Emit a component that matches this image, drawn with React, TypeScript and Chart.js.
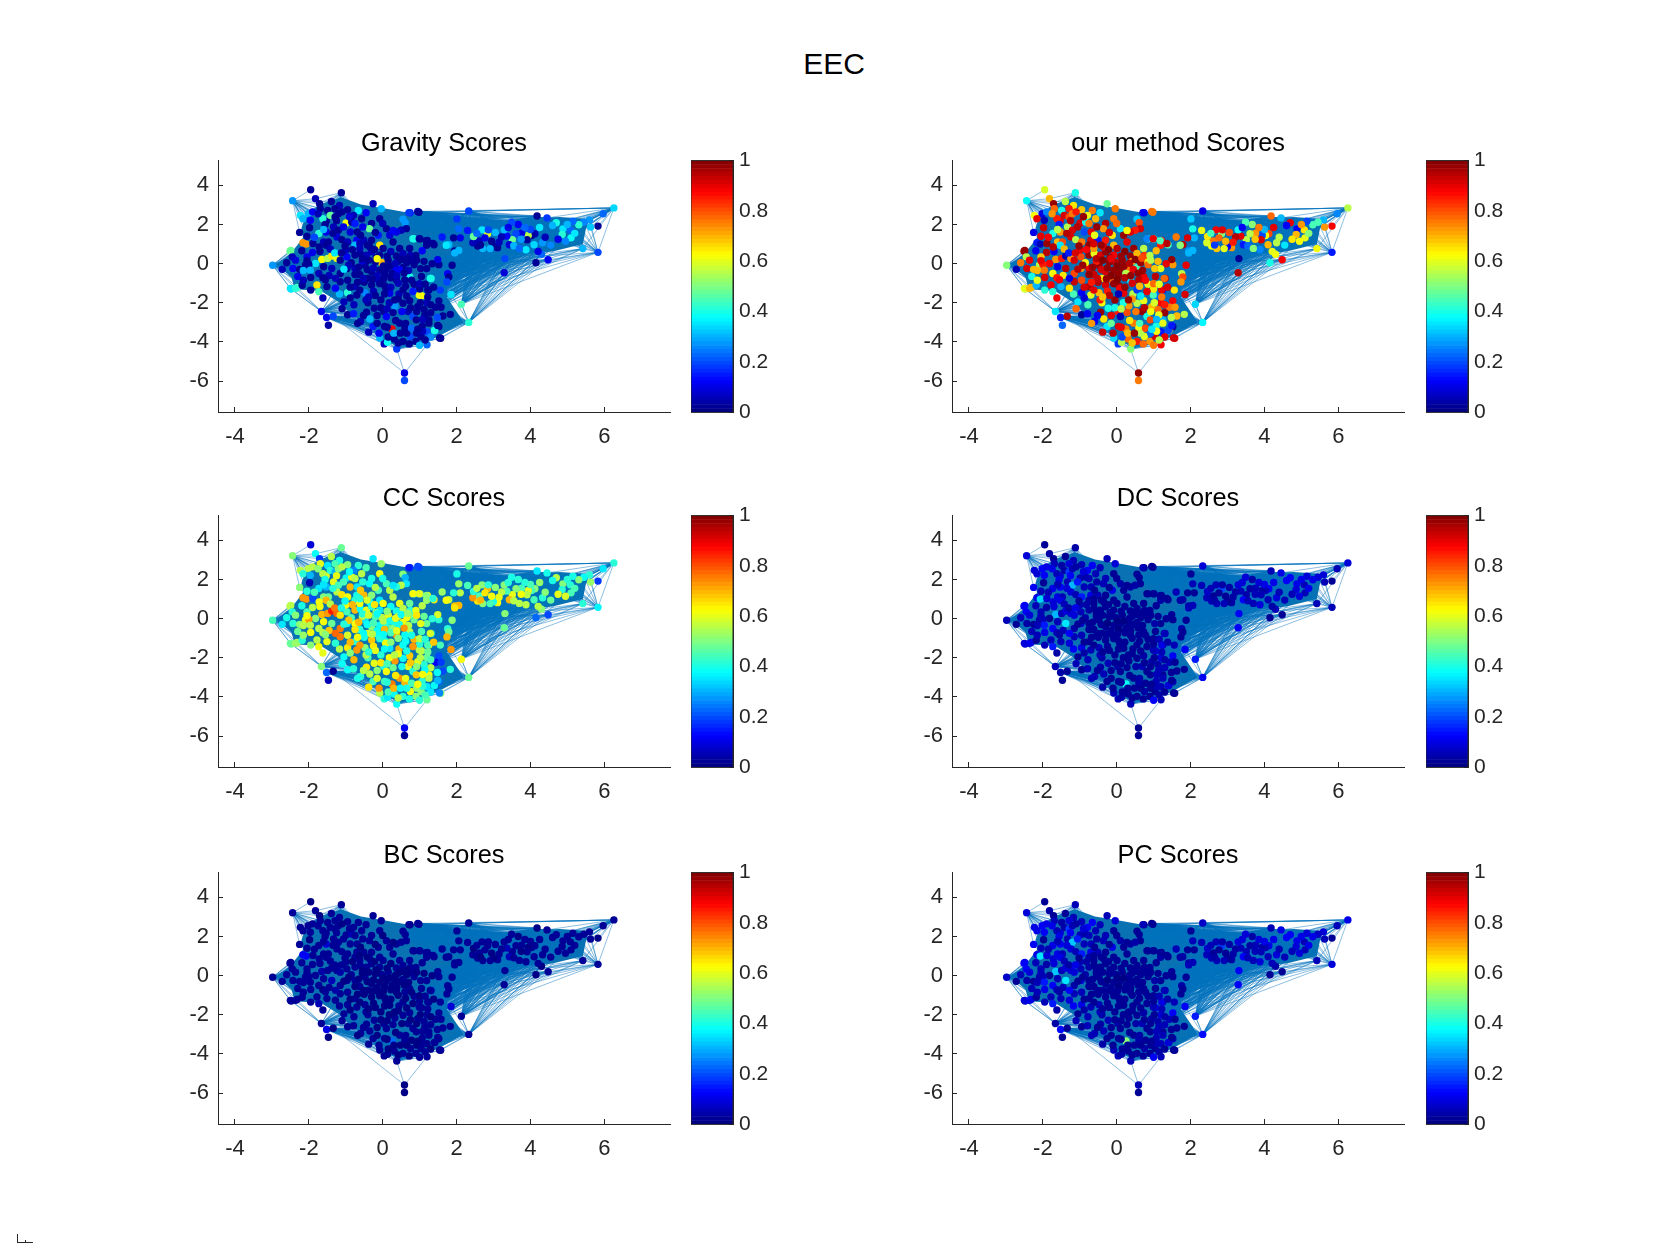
import React, { useEffect, useRef } from "react";
import { Chart, registerables } from "chart.js";

Chart.register(...registerables);

const nodeX = [
  6.26, 5.83, 2.33, 2.33, 2.13, 0.59, 0.59, 0.38, -2.98, -2.44,
  -1.95, -1.12, -1.66, -1.52, -1.34, -1.47, -2.48, -2.32, -2.49, -2.16,
  5.97, 5.83, 5.63, 5.6, 5.42, 5.45, 5.31, 5.15, 5.1, 5.08,
  4.88, 4.86, 4.7, 4.45, 4.18, 4.48, 4.15, 4.3, 4.33, 4.21,
  4.1, 3.88, 4.12, 4.03, 3.94, 3.91, 3.76, 3.61, 3.67, 3.49,
  3.51, 3.36, 3.29, 3.22, 3.43, 3.11, 3.0, 2.91, 2.71, 2.57,
  2.62, 2.44, 2.46, 2.84, 2.69, 2.86, 2.77, 3.31, 3.29, 2.06,
  2.01, 2.1, 1.92, 1.79, 1.61, 1.39, 1.21, 1.19, 1.01, 0.85,
  1.95, 2.06, 1.95, 0.98, 0.74, 1.52, 1.88, 1.49, 1.34, 1.19,
  1.03, 1.76, 1.79, 1.74, 1.31, 1.85, 1.56, 1.25, 1.05, 1.52,
  1.43, 1.58, 1.83, 1.63, 1.52, 1.41, 1.57, 1.3, 1.12, 1.25,
  1.14, -1.82, -1.39, -1.17, -1.71, -1.69, -1.49, -1.29, -0.95, -0.66,
  -0.26, -0.04, 0.71, 0.95, -2.23, -2.02, -2.16, -1.96, -1.53, -1.62,
  -1.42, -1.29, -1.2, -0.99, -0.84, -0.79, -0.57, -0.3, -0.08, 0.1,
  0.55, 0.61, 0.64, 0.5, -1.98, -1.73, -1.56, -1.53, -1.33, -1.2,
  -1.06, -0.75, -0.88, -0.69, -0.36, -0.54, -0.12, 0.19, 0.37, 0.82,
  -2.07, -1.89, -2.51, -2.19, -1.9, -1.6, -1.47, -1.53, -1.24, -1.11,
  -0.95, -0.7, -0.51, -0.75, -0.3, -0.08, 0.01, 0.28, 0.46, 0.73,
  1.07, 0.99, 1.18, 1.36, 1.72, -2.45, -2.36, -1.65, -1.49, -1.38,
  -1.24, -1.82, -1.15, -0.97, -0.75, -0.61, -0.44, -0.3, -0.03, -0.08,
  0.15, 0.37, 0.55, 0.77, -2.72, -2.43, -2.25, -2.09, -2.0, -1.96,
  -1.73, -1.6, -1.38, -1.15, -0.97, -0.75, -0.48, -0.3, -0.08, 0.1,
  0.33, 0.55, 0.73, 0.6, 0.37, -2.5, -2.36, -2.18, -1.78, -1.73,
  -1.51, -1.15, -1.17, -0.95, -0.75, -0.7, -0.48, -0.3, -0.12, 0.06,
  0.19, 0.44, 0.55, 0.73, 0.99, 1.22, 1.29, -0.95, -0.79, -0.44,
  -0.23, -0.35, -0.26, 0.03, 0.1, 0.33, 0.55, 0.69, 0.82, 0.46,
  0.6, 0.25, 0.05, -0.08, 0.04, 0.13, 0.31, 0.55, 0.75, 0.9,
  1.04, 1.0, 1.2, 1.54, 1.4, 1.49, 1.2, 1.07, 1.25, 0.91,
  -0.2, -0.55, -0.62, -0.4, -0.15, 0.05, 0.25, 0.45, 0.65, 0.85,
  -1.0, -0.85, -0.35, -0.18, 0.22, 0.42, 0.75, 0.9, -0.5, -0.25,
  -0.05, 0.18, 0.42, 0.62, 0.85, 1.05, -0.95, -1.45, -1.7, -2.05,
  -1.9, -1.35, -0.62, -0.4, -0.78, -1.05, 0.28, 0.08, 0.7, 1.0,
  -0.6, -0.15, 0.35, 0.65, 0.95, -0.1, 0.15, -0.45, -0.75, 1.2,
  -2.05, -1.75, -1.6, -1.25, -1.1, -0.9, -0.6, -0.45, -0.2, 0.0,
  -2.25, -1.85, -1.72, -1.42, -1.02, -0.82, -0.62, -0.42, -0.22, 0.28,
  -2.3, -2.05, -1.62, -1.3, -1.12, -0.92, -0.55, -0.38, -0.15, 0.12,
  -2.6, -2.15, -1.95, -1.55, -1.28, -1.05, -0.65, -0.42, -0.25, 0.02,
  0.2, 0.35, 0.5, 0.68, 0.92, 1.12, -0.08, -0.28, -0.52, -0.68,
  -0.88, -1.28, -1.62, -1.95, -2.15, 0.02, 0.22, 0.38, 0.58, 0.78,
  1.0, 1.15, 1.38, 0.05, 0.22, 0.42, 0.65, 0.82, 1.02, 1.22,
  -0.2, -0.38, -0.62, -0.88, -1.1, -0.05, 0.12, 0.32, 0.52, 0.75,
  0.92, 1.08, 1.3, 1.48, -0.52, -0.68, -0.38, -0.15, 0.12, 0.3,
  0.48, 0.62, 0.78, 0.92, 1.08, 1.3, 0.42, 0.72, 0.95, 1.15,
  2.55, 3.05, 3.4, 3.75, 4.0, 4.4, 4.6, 4.95, 5.2, 3.15,
  2.3, 2.95, 3.55, 3.85, 4.25, 4.55, 4.75, 5.0, 2.65, 3.7,
];

const nodeY = [
  2.85, 0.58, 2.69, -3.0, -2.07, -5.59, -5.97, -4.36, -0.08, 3.22,
  3.78, 3.63, -2.44, -2.75, -2.69, -3.15, -1.3, -1.22, 0.68, 1.07,
  2.55, 1.92, 1.87, 2.24, 0.77, 2.12, 1.99, 2.17, 1.32, 1.73,
  1.78, 1.49, 2.09, 2.34, 2.44, 0.2, 0.05, 0.48, 1.07, 0.63,
  0.97, 0.71, 1.53, 1.44, 1.44, 1.22, 1.56, 1.53, 2.0, 2.12,
  1.22, 1.41, 1.73, 1.36, 0.97, 0.82, 0.88, 0.77, 0.77, 0.9,
  1.16, 1.07, 1.39, 1.53, 1.73, 1.73, 1.32, 0.26, -0.46, 1.78,
  2.29, 1.32, 1.32, 0.97, 1.36, 0.97, 1.19, 0.94, 1.27, 1.27,
  0.65, 0.68, 0.55, 2.63, 2.6, -0.05, -0.08, 0.21, 0.0, -0.25,
  -0.25, -0.51, -0.68, -0.93, -0.76, -1.57, -1.35, -1.35, -1.64, -1.9,
  -2.23, -2.23, -2.59, -2.67, -3.22, -3.42, -3.81, -2.51, -2.34, -2.88,
  -2.62, 3.32, 3.18, 2.98, 3.06, 2.81, 2.72, 2.81, 2.76, 2.72,
  3.06, 2.81, 2.61, 2.67, 2.47, 2.55, 2.3, 2.22, 2.18, 2.3,
  2.47, 2.39, 2.55, 2.08, 2.13, 2.47, 2.3, 2.05, 2.3, 1.79,
  2.27, 2.1, 1.79, 1.71, 1.84, 1.54, 2.0, 1.62, 1.88, 1.71,
  1.88, 2.05, 1.62, 1.62, 1.79, 1.88, 1.45, 1.45, 1.62, 1.28,
  1.0, 1.03, 0.64, 0.66, 0.57, 1.11, 1.11, 0.94, 1.37, 1.23,
  1.11, 1.2, 1.2, 0.94, 1.2, 0.94, 0.78, 1.11, 0.78, 0.78,
  0.66, 1.28, 1.17, 1.03, 0.94, 0.35, 0.18, 0.22, 0.27, 0.39,
  0.27, 0.01, 0.18, 0.35, 0.44, 0.52, 0.44, 0.61, 0.06, 0.44,
  0.18, 0.39, 0.52, 0.18, -0.29, -0.24, -0.29, -0.07, -0.04, -0.33,
  -0.5, -0.16, -0.24, -0.5, -0.24, -0.24, -0.07, -0.41, -0.33, -0.24,
  -0.24, -0.19, -0.67, -0.83, -0.83, -1.26, -1.26, -1.1, -1.09, -1.43,
  -1.17, -0.92, -1.55, -1.48, -1.17, -1.6, -1.48, -1.09, -0.83, -1.14,
  -1.51, -1.55, -1.34, -1.89, -1.6, -1.34, -0.75, -2.61, -2.56, -2.48,
  -2.28, -2.83, -3.21, -2.44, -2.7, -2.16, -2.02, -2.44, -2.7, -3.04,
  -3.29, -3.34, -3.21, -3.8, -4.1, -4.02, -3.85, -3.97, -3.72, -3.97,
  -3.72, -4.17, -4.14, -3.8, -3.41, -3.16, -3.48, -3.19, -3.04, -2.87,
  0.1, 0.12, -0.55, -0.75, -0.62, -0.55, -0.5, -0.3, 0.05, -0.05,
  0.7, 0.05, 0.85, 0.3, 0.62, 0.12, 0.42, 0.42, -0.95, -1.4,
  -1.85, -2.0, -1.0, -1.15, -1.05, -0.65, -0.85, -0.6, 0.62, 0.35,
  2.65, 1.55, 0.78, -2.0, -2.1, -1.95, -2.5, -1.25, -0.35, -1.3,
  -2.95, -2.65, -2.9, -3.55, -2.2, -3.55, -3.75, -1.85, -0.55, -2.0,
  1.4, 2.55, 1.75, 2.2, 2.65, 2.4, 1.45, 2.6, 1.6, 2.05,
  1.6, 1.35, 0.85, 0.75, 0.9, 0.72, 1.02, 0.95, 0.72, 1.7,
  -0.65, 0.15, -0.72, 0.55, 0.55, -0.08, 0.25, 0.18, 0.25, 0.38,
  0.05, -0.85, -0.7, -0.82, -0.75, -0.28, -0.18, -0.3, -0.22, -0.12,
  -0.12, 0.02, 0.22, 0.28, 0.18, 0.12, -1.02, -0.78, -0.75, -0.95,
  -1.2, -1.25, -1.75, -1.35, -0.35, -0.8, -0.72, -0.62, -0.48, -0.85,
  -1.02, -1.05, -1.2, -1.55, -1.2, -1.8, -1.65, -1.42, -2.0, -1.7,
  -1.62, -1.7, -1.35, -1.75, -2.3, -2.25, -2.3, -1.85, -2.45, -2.25,
  -2.45, -2.85, -2.1, -2.75, -2.65, -3.05, -3.5, -3.05, -3.25, -3.55,
  -3.55, -3.05, -3.3, -3.55, -3.45, -3.75, -4.05, -4.1, -3.35, -3.9,
  1.55, 1.6, 1.85, 1.25, 1.75, 1.35, 1.95, 1.15, 1.55, 1.1,
  1.7, 1.15, 0.92, 1.85, 1.85, 0.95, 1.25, 2.0, 0.95, 0.78,
];

const gravityScores = [
  0.33, 0.2, 0.2, 0.42, 0.45, 0.1, 0.2, 0.18, 0.27, 0.28,
  0.03, 0.03, 0.12, 0.12, 0.2, 0.04, 0.35, 0.45, 0.47, 0.72,
  0.22, 0.02, 0.32, 0.28, 0.3, 0.25, 0.42, 0.22, 0.38, 0.22,
  0.35, 0.42, 0.4, 0.18, 0.02, 0.12, 0.02, 0.22, 0.28, 0.1,
  0.33, 0.35, 0.05, 0.03, 0.55, 0.03, 0.1, 0.2, 0.12, 0.2,
  0.48, 0.12, 0.3, 0.05, 0.08, 0.03, 0.03, 0.3, 0.3, 0.03,
  0.05, 0.05, 0.47, 0.6, 0.35, 0.2, 0.1, 0.2, 0.08, 0.22,
  0.18, 0.1, 0.03, 0.3, 0.15, 0.03, 0.03, 0.03, 0.03, 0.42,
  0.03, 0.3, 0.3, 0.03, 0.15, 0.03, 0.03, 0.1, 0.03, 0.03,
  0.03, 0.12, 0.03, 0.2, 0.4, 0.35, 0.18, 0.03, 0.62, 0.03,
  0.03, 0.03, 0.03, 0.03, 0.03, 0.4, 0.03, 0.03, 0.03, 0.03,
  0.03, 0.05, 0.03, 0.05, 0.03, 0.03, 0.03, 0.03, 0.03, 0.35,
  0.05, 0.3, 0.18, 0.03, 0.35, 0.3, 0.3, 0.12, 0.03, 0.42,
  0.48, 0.03, 0.03, 0.62, 0.03, 0.05, 0.03, 0.03, 0.03, 0.03,
  0.28, 0.28, 0.03, 0.05, 0.03, 0.42, 0.03, 0.1, 0.05, 0.03,
  0.1, 0.15, 0.08, 0.03, 0.48, 0.1, 0.15, 0.08, 0.1, 0.4,
  0.72, 0.03, 0.47, 0.03, 0.1, 0.05, 0.03, 0.03, 0.08, 0.03,
  0.05, 0.12, 0.05, 0.3, 0.03, 0.65, 0.03, 0.03, 0.03, 0.03,
  0.12, 0.03, 0.03, 0.03, 0.35, 0.05, 0.08, 0.62, 0.55, 0.65,
  0.6, 0.35, 0.03, 0.12, 0.03, 0.03, 0.05, 0.05, 0.7, 0.03,
  0.03, 0.03, 0.05, 0.03, 0.05, 0.12, 0.03, 0.03, 0.03, 0.3,
  0.05, 0.03, 0.05, 0.03, 0.03, 0.05, 0.03, 0.03, 0.03, 0.03,
  0.12, 0.03, 0.4, 0.03, 0.03, 0.35, 0.42, 0.03, 0.65, 0.45,
  0.03, 0.03, 0.3, 0.42, 0.05, 0.03, 0.25, 0.03, 0.05, 0.03,
  0.1, 0.05, 0.03, 0.03, 0.62, 0.03, 0.4, 0.03, 0.15, 0.03,
  0.03, 0.3, 0.15, 0.03, 0.12, 0.28, 0.03, 0.05, 0.2, 0.03,
  0.03, 0.88, 0.03, 0.3, 0.05, 0.38, 0.03, 0.03, 0.2, 0.03,
  0.03, 0.3, 0.22, 0.03, 0.4, 0.03, 0.2, 0.03, 0.03, 0.03,
  0.03, 0.08, 0.03, 0.03, 0.05, 0.03, 0.03, 0.12, 0.03, 0.03,
  0.05, 0.03, 0.03, 0.03, 0.05, 0.03, 0.05, 0.03, 0.03, 0.05,
  0.03, 0.05, 0.05, 0.03, 0.03, 0.03, 0.03, 0.05, 0.03, 0.1,
  0.12, 0.03, 0.05, 0.03, 0.05, 0.05, 0.03, 0.03, 0.05, 0.03,
  0.05, 0.03, 0.03, 0.03, 0.03, 0.12, 0.03, 0.05, 0.03, 0.05,
  0.03, 0.05, 0.3, 0.03, 0.03, 0.08, 0.03, 0.12, 0.03, 0.05,
  0.03, 0.2, 0.03, 0.05, 0.03, 0.03, 0.05, 0.03, 0.03, 0.12,
  0.1, 0.03, 0.03, 0.35, 0.03, 0.05, 0.03, 0.03, 0.62, 0.03,
  0.03, 0.05, 0.03, 0.03, 0.05, 0.35, 0.03, 0.03, 0.05, 0.03,
  0.03, 0.05, 0.03, 0.03, 0.03, 0.03, 0.03, 0.03, 0.05, 0.03,
  0.03, 0.12, 0.05, 0.03, 0.3, 0.03, 0.03, 0.05, 0.03, 0.03,
  0.05, 0.03, 0.03, 0.03, 0.05, 0.03, 0.03, 0.15, 0.03, 0.03,
  0.03, 0.05, 0.03, 0.03, 0.03, 0.03, 0.05, 0.03, 0.12, 0.03,
  0.03, 0.05, 0.03, 0.2, 0.03, 0.03, 0.05, 0.03, 0.03, 0.3,
  0.03, 0.03, 0.22, 0.03, 0.05, 0.25, 0.03, 0.03, 0.03, 0.03,
  0.22, 0.3, 0.1, 0.28, 0.2, 0.05, 0.3, 0.25, 0.35, 0.05,
  0.15, 0.03, 0.3, 0.22, 0.35, 0.25, 0.1, 0.3, 0.03, 0.22,
];

const ourMethodScores = [
  0.55, 0.15, 0.1, 0.37, 0.33, 0.97, 0.75, 0.5, 0.5, 0.38,
  0.58, 0.4, 0.35, 0.15, 0.95, 0.22, 0.55, 0.7, 0.97, 0.15,
  0.25, 0.88, 0.72, 0.3, 0.62, 0.45, 0.45, 0.2, 0.6, 0.65,
  0.12, 0.7, 0.9, 0.3, 0.78, 0.88, 0.4, 0.62, 0.55, 0.6,
  0.7, 0.25, 0.8, 0.62, 0.2, 0.92, 0.72, 0.55, 0.5, 0.45,
  0.55, 0.9, 0.38, 0.95, 0.15, 0.72, 0.12, 0.6, 0.68, 0.62,
  0.75, 0.58, 0.65, 0.5, 0.88, 0.9, 0.78, 0.02, 0.95, 0.4,
  0.32, 0.3, 0.92, 0.95, 0.75, 0.45, 0.88, 0.85, 0.42, 0.4,
  0.28, 0.3, 0.3, 0.75, 0.1, 0.72, 0.9, 0.97, 0.9, 0.6,
  0.68, 0.55, 0.8, 0.72, 0.92, 0.92, 0.65, 0.15, 0.22, 0.88,
  0.75, 0.72, 0.55, 0.7, 0.02, 0.65, 0.92, 0.97, 0.78, 0.3,
  0.6, 0.7, 0.55, 0.65, 0.98, 0.78, 0.4, 0.85, 0.68, 0.75,
  0.48, 0.76, 0.12, 0.75, 0.62, 0.1, 0.9, 0.05, 0.9, 0.85,
  0.92, 0.8, 0.75, 0.92, 0.4, 0.6, 0.7, 0.95, 0.75, 0.35,
  0.32, 0.8, 0.92, 0.85, 0.93, 0.4, 0.15, 0.72, 0.55, 0.92,
  0.95, 0.75, 0.2, 0.9, 0.72, 0.98, 0.65, 0.98, 0.9, 0.25,
  0.05, 0.98, 0.97, 0.12, 0.95, 0.7, 0.8, 0.35, 0.92, 0.55,
  0.75, 0.92, 0.15, 0.98, 0.85, 0.7, 0.95, 0.9, 0.98, 0.55,
  0.7, 0.9, 0.45, 0.95, 0.5, 0.55, 0.9, 0.72, 0.85, 0.05,
  0.72, 0.88, 0.92, 0.8, 0.98, 0.6, 0.92, 0.97, 0.95, 0.88,
  0.98, 0.97, 0.7, 0.62, 0.05, 0.92, 0.7, 0.55, 0.85, 0.75,
  0.62, 0.1, 0.95, 0.8, 0.72, 0.9, 0.98, 0.92, 0.98, 0.97,
  0.75, 0.45, 0.9, 0.95, 0.35, 0.6, 0.7, 0.3, 0.88, 0.42,
  0.3, 0.93, 0.45, 0.12, 0.95, 0.6, 0.7, 0.92, 0.78, 0.98,
  0.9, 0.55, 0.18, 0.6, 0.45, 0.9, 0.78, 0.02, 0.12, 0.97,
  0.4, 0.65, 0.35, 0.85, 0.05, 0.72, 0.55, 0.98, 0.4, 0.75,
  0.62, 0.75, 0.92, 0.33, 0.18, 0.55, 0.78, 0.85, 0.6, 0.72,
  0.92, 0.75, 0.88, 0.92, 0.2, 0.15, 0.15, 0.4, 0.6, 0.8,
  0.98, 0.85, 0.93, 0.65, 0.99, 0.97, 0.55, 0.9, 0.98, 0.78,
  0.9, 0.62, 0.92, 0.98, 0.99, 0.7, 0.82, 0.55, 0.95, 0.85,
  0.97, 0.4, 0.92, 0.7, 0.6, 0.95, 0.8, 0.65, 0.12, 0.68,
  0.25, 0.95, 0.72, 0.62, 0.45, 0.35, 0.8, 0.88, 0.98, 0.65,
  0.12, 0.9, 0.65, 0.55, 0.7, 0.95, 0.2, 0.85, 0.98, 0.88,
  0.9, 0.72, 0.55, 0.95, 0.85, 0.98, 0.6, 0.35, 0.92, 0.78,
  0.1, 0.88, 0.95, 0.7, 0.97, 0.88, 0.92, 0.98, 0.99, 0.62,
  0.4, 0.9, 0.85, 0.15, 0.92, 0.98, 0.95, 0.99, 0.9, 0.97,
  0.75, 0.6, 0.92, 0.88, 0.1, 0.95, 0.98, 0.92, 0.97, 0.99,
  0.98, 0.95, 0.99, 0.8, 0.55, 0.7, 0.97, 0.98, 0.93, 0.85,
  0.92, 0.65, 0.88, 0.42, 0.7, 0.99, 0.95, 0.97, 0.98, 0.88,
  0.78, 0.6, 0.92, 0.05, 0.98, 0.72, 0.35, 0.9, 0.58, 0.75,
  0.95, 0.68, 0.9, 0.08, 0.78, 0.4, 0.55, 0.97, 0.75, 0.95,
  0.62, 0.3, 0.85, 0.55, 0.12, 0.72, 0.93, 0.48, 0.9, 0.7,
  0.97, 0.45, 0.8, 0.22, 0.62, 0.9, 0.68, 0.78, 0.35, 0.55,
  0.45, 0.8, 0.12, 0.68, 0.3, 0.55, 0.12, 0.62, 0.5, 0.85,
  0.6, 0.7, 0.22, 0.75, 0.9, 0.35, 0.65, 0.72, 0.18, 0.5,
];

const ccScores = [
  0.42, 0.36, 0.47, 0.48, 0.62, 0.12, 0.03, 0.38, 0.45, 0.5,
  0.08, 0.48, 0.5, 0.22, 0.03, 0.05, 0.48, 0.55, 0.55, 0.72,
  0.35, 0.18, 0.52, 0.42, 0.42, 0.38, 0.5, 0.4, 0.45, 0.42,
  0.5, 0.42, 0.55, 0.4, 0.35, 0.2, 0.22, 0.5, 0.42, 0.55,
  0.45, 0.55, 0.5, 0.45, 0.6, 0.55, 0.45, 0.5, 0.42, 0.4,
  0.6, 0.45, 0.5, 0.55, 0.7, 0.62, 0.4, 0.45, 0.5, 0.65,
  0.45, 0.72, 0.42, 0.7, 0.5, 0.42, 0.65, 0.5, 0.48, 0.52,
  0.4, 0.55, 0.42, 0.55, 0.52, 0.65, 0.62, 0.52, 0.5, 0.42,
  0.68, 0.7, 0.65, 0.2, 0.18, 0.42, 0.5, 0.58, 0.42, 0.48,
  0.6, 0.42, 0.48, 0.7, 0.42, 0.72, 0.45, 0.6, 0.55, 0.2,
  0.12, 0.18, 0.42, 0.2, 0.22, 0.2, 0.5, 0.55, 0.42, 0.62,
  0.38, 0.38, 0.55, 0.4, 0.18, 0.6, 0.35, 0.45, 0.5, 0.42,
  0.35, 0.52, 0.15, 0.2, 0.55, 0.55, 0.42, 0.3, 0.58, 0.55,
  0.42, 0.3, 0.5, 0.38, 0.6, 0.25, 0.55, 0.4, 0.62, 0.45,
  0.5, 0.3, 0.35, 0.55, 0.05, 0.35, 0.4, 0.3, 0.6, 0.45,
  0.45, 0.55, 0.7, 0.35, 0.38, 0.42, 0.45, 0.55, 0.42, 0.62,
  0.72, 0.2, 0.55, 0.4, 0.55, 0.5, 0.48, 0.7, 0.55, 0.65,
  0.62, 0.4, 0.7, 0.42, 0.5, 0.35, 0.62, 0.55, 0.6, 0.48,
  0.55, 0.6, 0.5, 0.42, 0.62, 0.42, 0.5, 0.7, 0.72, 0.85,
  0.78, 0.5, 0.65, 0.45, 0.7, 0.38, 0.6, 0.42, 0.55, 0.35,
  0.6, 0.4, 0.55, 0.5, 0.35, 0.42, 0.5, 0.6, 0.72, 0.55,
  0.55, 0.62, 0.48, 0.75, 0.4, 0.62, 0.35, 0.5, 0.38, 0.42,
  0.4, 0.62, 0.55, 0.38, 0.72, 0.48, 0.52, 0.42, 0.55, 0.62,
  0.6, 0.75, 0.55, 0.65, 0.42, 0.72, 0.5, 0.68, 0.38, 0.4,
  0.35, 0.7, 0.38, 0.68, 0.55, 0.45, 0.58, 0.38, 0.42, 0.65,
  0.6, 0.55, 0.45, 0.4, 0.62, 0.72, 0.38, 0.6, 0.42, 0.72,
  0.7, 0.75, 0.45, 0.55, 0.42, 0.35, 0.38, 0.42, 0.62, 0.5,
  0.5, 0.42, 0.48, 0.25, 0.38, 0.3, 0.35, 0.42, 0.55, 0.68,
  0.45, 0.55, 0.42, 0.58, 0.38, 0.7, 0.5, 0.4, 0.62, 0.48,
  0.62, 0.45, 0.4, 0.52, 0.38, 0.55, 0.42, 0.6, 0.4, 0.65,
  0.42, 0.62, 0.5, 0.38, 0.7, 0.45, 0.58, 0.68, 0.62, 0.45,
  0.55, 0.42, 0.62, 0.45, 0.7, 0.38, 0.48, 0.62, 0.55, 0.42,
  0.42, 0.5, 0.65, 0.4, 0.6, 0.72, 0.45, 0.55, 0.65, 0.48,
  0.42, 0.5, 0.35, 0.6, 0.55, 0.38, 0.68, 0.45, 0.55, 0.4,
  0.5, 0.45, 0.62, 0.55, 0.38, 0.7, 0.42, 0.58, 0.65, 0.35,
  0.48, 0.62, 0.55, 0.75, 0.4, 0.68, 0.42, 0.58, 0.38, 0.5,
  0.4, 0.52, 0.62, 0.5, 0.78, 0.42, 0.7, 0.38, 0.45, 0.55,
  0.4, 0.6, 0.38, 0.52, 0.65, 0.48, 0.42, 0.55, 0.38, 0.62,
  0.7, 0.42, 0.6, 0.5, 0.55, 0.38, 0.45, 0.6, 0.72, 0.4,
  0.55, 0.42, 0.68, 0.38, 0.5, 0.62, 0.4, 0.72, 0.55, 0.48,
  0.6, 0.42, 0.72, 0.5, 0.38, 0.65, 0.45, 0.55, 0.4, 0.68,
  0.5, 0.62, 0.45, 0.38, 0.55, 0.4, 0.65, 0.58, 0.42, 0.7,
  0.38, 0.6, 0.45, 0.52, 0.42, 0.35, 0.55, 0.4, 0.62, 0.45,
  0.55, 0.5, 0.42, 0.62, 0.45, 0.5, 0.4, 0.58, 0.45, 0.6,
  0.45, 0.62, 0.55, 0.42, 0.52, 0.48, 0.6, 0.42, 0.7, 0.55,
];

const dcScores = [
  0.08, 0.06, 0.08, 0.12, 0.15, 0.03, 0.02, 0.05, 0.06, 0.08,
  0.02, 0.04, 0.05, 0.04, 0.02, 0.02, 0.08, 0.1, 0.1, 0.1,
  0.05, 0.02, 0.05, 0.08, 0.06, 0.08, 0.1, 0.08, 0.06, 0.06,
  0.1, 0.08, 0.12, 0.1, 0.05, 0.02, 0.02, 0.05, 0.08, 0.04,
  0.05, 0.08, 0.12, 0.06, 0.04, 0.06, 0.05, 0.04, 0.04, 0.08,
  0.04, 0.06, 0.08, 0.04, 0.12, 0.04, 0.03, 0.05, 0.05, 0.05,
  0.03, 0.05, 0.07, 0.2, 0.05, 0.04, 0.03, 0.12, 0.12, 0.05,
  0.02, 0.03, 0.03, 0.04, 0.05, 0.03, 0.03, 0.04, 0.02, 0.02,
  0.04, 0.06, 0.05, 0.03, 0.03, 0.03, 0.02, 0.02, 0.03, 0.03,
  0.04, 0.04, 0.03, 0.03, 0.04, 0.12, 0.05, 0.05, 0.08, 0.12,
  0.06, 0.03, 0.02, 0.03, 0.05, 0.05, 0.03, 0.06, 0.04, 0.03,
  0.05, 0.04, 0.03, 0.06, 0.03, 0.05, 0.04, 0.08, 0.05, 0.12,
  0.06, 0.08, 0.05, 0.03, 0.08, 0.12, 0.08, 0.12, 0.08, 0.05,
  0.04, 0.18, 0.06, 0.05, 0.04, 0.12, 0.05, 0.06, 0.03, 0.04,
  0.03, 0.03, 0.03, 0.04, 0.03, 0.1, 0.1, 0.12, 0.05, 0.3,
  0.15, 0.06, 0.05, 0.06, 0.05, 0.04, 0.1, 0.03, 0.04, 0.03,
  0.33, 0.08, 0.12, 0.06, 0.04, 0.1, 0.06, 0.1, 0.08, 0.05,
  0.15, 0.1, 0.05, 0.04, 0.03, 0.03, 0.02, 0.03, 0.03, 0.03,
  0.02, 0.03, 0.03, 0.03, 0.04, 0.12, 0.08, 0.3, 0.05, 0.08,
  0.08, 0.03, 0.08, 0.05, 0.04, 0.03, 0.03, 0.02, 0.02, 0.02,
  0.02, 0.02, 0.03, 0.03, 0.03, 0.04, 0.03, 0.04, 0.06, 0.15,
  0.12, 0.05, 0.35, 0.04, 0.08, 0.03, 0.02, 0.02, 0.02, 0.02,
  0.02, 0.03, 0.03, 0.02, 0.02, 0.08, 0.1, 0.03, 0.05, 0.15,
  0.05, 0.05, 0.12, 0.1, 0.03, 0.05, 0.05, 0.03, 0.02, 0.02,
  0.02, 0.03, 0.03, 0.04, 0.06, 0.1, 0.06, 0.03, 0.05, 0.04,
  0.05, 0.05, 0.03, 0.04, 0.03, 0.02, 0.03, 0.05, 0.03, 0.03,
  0.04, 0.38, 0.03, 0.05, 0.06, 0.04, 0.03, 0.03, 0.04, 0.03,
  0.02, 0.12, 0.05, 0.03, 0.08, 0.03, 0.06, 0.05, 0.05, 0.02,
  0.02, 0.02, 0.03, 0.02, 0.02, 0.01, 0.02, 0.03, 0.02, 0.02,
  0.05, 0.04, 0.02, 0.02, 0.02, 0.02, 0.03, 0.02, 0.02, 0.02,
  0.03, 0.02, 0.02, 0.03, 0.02, 0.03, 0.05, 0.05, 0.08, 0.06,
  0.1, 0.08, 0.03, 0.04, 0.05, 0.03, 0.03, 0.02, 0.02, 0.03,
  0.05, 0.03, 0.02, 0.03, 0.04, 0.03, 0.02, 0.05, 0.03, 0.08,
  0.05, 0.1, 0.06, 0.12, 0.04, 0.08, 0.03, 0.05, 0.03, 0.02,
  0.12, 0.06, 0.08, 0.05, 0.03, 0.04, 0.03, 0.02, 0.02, 0.03,
  0.05, 0.06, 0.05, 0.04, 0.1, 0.02, 0.02, 0.03, 0.02, 0.02,
  0.06, 0.05, 0.1, 0.04, 0.12, 0.03, 0.02, 0.02, 0.01, 0.01,
  0.01, 0.02, 0.02, 0.03, 0.03, 0.03, 0.02, 0.02, 0.02, 0.03,
  0.03, 0.08, 0.04, 0.06, 0.05, 0.02, 0.02, 0.02, 0.02, 0.03,
  0.03, 0.05, 0.04, 0.02, 0.02, 0.03, 0.02, 0.03, 0.03, 0.05,
  0.02, 0.02, 0.03, 0.04, 0.05, 0.02, 0.02, 0.03, 0.04, 0.03,
  0.03, 0.05, 0.04, 0.03, 0.03, 0.05, 0.04, 0.03, 0.03, 0.02,
  0.03, 0.04, 0.02, 0.03, 0.05, 0.03, 0.03, 0.02, 0.03, 0.04,
  0.05, 0.04, 0.08, 0.05, 0.1, 0.06, 0.12, 0.08, 0.1, 0.04,
  0.06, 0.03, 0.05, 0.08, 0.1, 0.05, 0.06, 0.1, 0.04, 0.05,
];

const bcScores = [
  0.02, 0.02, 0.03, 0.02, 0.02, 0.01, 0.01, 0.02, 0.02, 0.02,
  0.01, 0.02, 0.02, 0.1, 0.01, 0.01, 0.02, 0.02, 0.02, 0.12,
  0.02, 0.01, 0.02, 0.02, 0.02, 0.02, 0.02, 0.02, 0.02, 0.02,
  0.02, 0.02, 0.02, 0.02, 0.01, 0.02, 0.01, 0.01, 0.02, 0.02,
  0.02, 0.02, 0.02, 0.02, 0.01, 0.02, 0.02, 0.02, 0.01, 0.02,
  0.02, 0.05, 0.02, 0.02, 0.05, 0.02, 0.01, 0.02, 0.02, 0.02,
  0.02, 0.02, 0.01, 0.03, 0.02, 0.02, 0.02, 0.02, 0.02, 0.02,
  0.02, 0.02, 0.02, 0.02, 0.02, 0.02, 0.02, 0.02, 0.02, 0.02,
  0.02, 0.02, 0.02, 0.02, 0.01, 0.02, 0.02, 0.02, 0.01, 0.02,
  0.02, 0.02, 0.02, 0.02, 0.05, 0.08, 0.02, 0.02, 0.02, 0.02,
  0.02, 0.02, 0.02, 0.02, 0.02, 0.02, 0.02, 0.02, 0.02, 0.02,
  0.02, 0.02, 0.02, 0.02, 0.01, 0.03, 0.02, 0.02, 0.02, 0.02,
  0.02, 0.02, 0.02, 0.02, 0.02, 0.02, 0.02, 0.02, 0.02, 0.02,
  0.02, 0.02, 0.02, 0.02, 0.05, 0.02, 0.02, 0.02, 0.02, 0.02,
  0.02, 0.02, 0.02, 0.02, 0.01, 0.02, 0.02, 0.08, 0.02, 0.02,
  0.02, 0.02, 0.02, 0.02, 0.02, 0.02, 0.02, 0.02, 0.02, 0.02,
  0.12, 0.02, 0.02, 0.02, 0.02, 0.02, 0.02, 0.02, 0.02, 0.02,
  0.02, 0.02, 0.02, 0.02, 0.02, 0.02, 0.02, 0.02, 0.02, 0.02,
  0.02, 0.02, 0.02, 0.02, 0.02, 0.02, 0.02, 0.04, 0.02, 0.03,
  0.02, 0.02, 0.04, 0.02, 0.02, 0.03, 0.02, 0.02, 0.02, 0.02,
  0.02, 0.02, 0.02, 0.02, 0.02, 0.02, 0.02, 0.02, 0.02, 0.02,
  0.02, 0.02, 0.05, 0.02, 0.02, 0.03, 0.02, 0.01, 0.01, 0.01,
  0.01, 0.02, 0.02, 0.02, 0.01, 0.02, 0.02, 0.02, 0.02, 0.05,
  0.02, 0.02, 0.02, 0.03, 0.02, 0.02, 0.02, 0.01, 0.01, 0.01,
  0.01, 0.02, 0.02, 0.02, 0.02, 0.02, 0.02, 0.02, 0.02, 0.03,
  0.02, 0.02, 0.02, 0.02, 0.02, 0.02, 0.02, 0.02, 0.02, 0.02,
  0.02, 0.22, 0.02, 0.02, 0.02, 0.02, 0.02, 0.02, 0.02, 0.02,
  0.02, 0.02, 0.02, 0.02, 0.02, 0.02, 0.02, 0.02, 0.02, 0.02,
  0.01, 0.01, 0.02, 0.01, 0.01, 0.01, 0.01, 0.01, 0.01, 0.02,
  0.02, 0.02, 0.02, 0.01, 0.01, 0.01, 0.02, 0.02, 0.01, 0.01,
  0.01, 0.01, 0.01, 0.01, 0.02, 0.02, 0.02, 0.02, 0.03, 0.02,
  0.02, 0.02, 0.02, 0.02, 0.02, 0.02, 0.02, 0.01, 0.01, 0.02,
  0.02, 0.01, 0.01, 0.01, 0.02, 0.02, 0.01, 0.02, 0.01, 0.02,
  0.02, 0.02, 0.02, 0.02, 0.01, 0.02, 0.01, 0.02, 0.01, 0.01,
  0.02, 0.02, 0.02, 0.02, 0.02, 0.01, 0.01, 0.01, 0.01, 0.01,
  0.02, 0.02, 0.01, 0.02, 0.03, 0.01, 0.01, 0.01, 0.01, 0.01,
  0.02, 0.02, 0.02, 0.02, 0.04, 0.01, 0.01, 0.01, 0.01, 0.01,
  0.01, 0.01, 0.01, 0.01, 0.01, 0.01, 0.01, 0.01, 0.01, 0.01,
  0.01, 0.02, 0.02, 0.02, 0.02, 0.01, 0.01, 0.01, 0.01, 0.01,
  0.01, 0.02, 0.01, 0.01, 0.01, 0.01, 0.01, 0.01, 0.01, 0.02,
  0.01, 0.01, 0.01, 0.01, 0.02, 0.01, 0.01, 0.01, 0.01, 0.01,
  0.01, 0.02, 0.01, 0.02, 0.02, 0.01, 0.02, 0.01, 0.01, 0.01,
  0.01, 0.02, 0.01, 0.01, 0.02, 0.01, 0.01, 0.01, 0.01, 0.02,
  0.02, 0.02, 0.02, 0.01, 0.02, 0.02, 0.02, 0.02, 0.02, 0.02,
  0.02, 0.01, 0.02, 0.02, 0.02, 0.02, 0.02, 0.02, 0.01, 0.02,
];

const pcScores = [
  0.1, 0.08, 0.07, 0.14, 0.15, 0.05, 0.03, 0.05, 0.07, 0.09,
  0.03, 0.05, 0.04, 0.13, 0.03, 0.03, 0.08, 0.1, 0.1, 0.1,
  0.05, 0.02, 0.06, 0.08, 0.06, 0.07, 0.1, 0.08, 0.06, 0.06,
  0.1, 0.08, 0.12, 0.1, 0.05, 0.02, 0.02, 0.04, 0.08, 0.05,
  0.05, 0.08, 0.1, 0.06, 0.04, 0.06, 0.05, 0.04, 0.04, 0.08,
  0.05, 0.06, 0.08, 0.04, 0.12, 0.04, 0.03, 0.05, 0.05, 0.05,
  0.03, 0.05, 0.07, 0.18, 0.05, 0.04, 0.03, 0.12, 0.12, 0.05,
  0.03, 0.03, 0.03, 0.04, 0.05, 0.03, 0.03, 0.04, 0.02, 0.02,
  0.04, 0.06, 0.05, 0.03, 0.03, 0.03, 0.02, 0.02, 0.03, 0.03,
  0.04, 0.04, 0.03, 0.03, 0.04, 0.12, 0.05, 0.05, 0.08, 0.12,
  0.06, 0.03, 0.02, 0.03, 0.05, 0.05, 0.03, 0.06, 0.04, 0.03,
  0.05, 0.04, 0.03, 0.06, 0.03, 0.05, 0.04, 0.08, 0.05, 0.12,
  0.06, 0.08, 0.05, 0.03, 0.1, 0.12, 0.1, 0.12, 0.08, 0.05,
  0.04, 0.18, 0.06, 0.05, 0.04, 0.12, 0.05, 0.06, 0.03, 0.04,
  0.03, 0.03, 0.03, 0.04, 0.03, 0.1, 0.1, 0.12, 0.05, 0.32,
  0.15, 0.06, 0.05, 0.06, 0.05, 0.04, 0.1, 0.03, 0.04, 0.03,
  0.35, 0.08, 0.12, 0.06, 0.04, 0.1, 0.06, 0.1, 0.08, 0.05,
  0.15, 0.1, 0.05, 0.04, 0.03, 0.03, 0.02, 0.03, 0.03, 0.03,
  0.02, 0.03, 0.03, 0.03, 0.04, 0.12, 0.08, 0.32, 0.05, 0.08,
  0.08, 0.03, 0.08, 0.05, 0.04, 0.03, 0.03, 0.02, 0.02, 0.02,
  0.02, 0.02, 0.03, 0.03, 0.03, 0.04, 0.03, 0.04, 0.06, 0.15,
  0.12, 0.05, 0.35, 0.04, 0.08, 0.03, 0.02, 0.02, 0.02, 0.02,
  0.02, 0.03, 0.03, 0.02, 0.02, 0.08, 0.1, 0.03, 0.05, 0.15,
  0.05, 0.05, 0.12, 0.1, 0.03, 0.05, 0.05, 0.03, 0.02, 0.02,
  0.02, 0.03, 0.03, 0.04, 0.06, 0.1, 0.06, 0.03, 0.05, 0.04,
  0.05, 0.05, 0.03, 0.04, 0.03, 0.02, 0.03, 0.05, 0.03, 0.03,
  0.04, 0.5, 0.03, 0.05, 0.06, 0.04, 0.03, 0.03, 0.04, 0.03,
  0.02, 0.12, 0.05, 0.03, 0.08, 0.03, 0.06, 0.05, 0.05, 0.02,
  0.02, 0.02, 0.03, 0.02, 0.02, 0.01, 0.02, 0.03, 0.02, 0.02,
  0.05, 0.04, 0.02, 0.02, 0.02, 0.02, 0.03, 0.02, 0.02, 0.02,
  0.03, 0.02, 0.02, 0.03, 0.02, 0.03, 0.05, 0.05, 0.08, 0.06,
  0.1, 0.08, 0.03, 0.04, 0.05, 0.03, 0.03, 0.02, 0.02, 0.03,
  0.05, 0.03, 0.02, 0.03, 0.04, 0.03, 0.02, 0.05, 0.03, 0.08,
  0.05, 0.1, 0.06, 0.12, 0.04, 0.08, 0.03, 0.05, 0.03, 0.02,
  0.12, 0.06, 0.08, 0.05, 0.03, 0.04, 0.03, 0.02, 0.02, 0.03,
  0.05, 0.06, 0.05, 0.04, 0.1, 0.02, 0.02, 0.03, 0.02, 0.02,
  0.06, 0.05, 0.1, 0.04, 0.12, 0.03, 0.02, 0.02, 0.01, 0.01,
  0.01, 0.02, 0.02, 0.03, 0.03, 0.03, 0.02, 0.02, 0.02, 0.03,
  0.03, 0.08, 0.04, 0.06, 0.05, 0.02, 0.02, 0.02, 0.02, 0.03,
  0.03, 0.05, 0.04, 0.02, 0.02, 0.03, 0.02, 0.03, 0.03, 0.05,
  0.02, 0.02, 0.03, 0.04, 0.05, 0.02, 0.02, 0.03, 0.04, 0.03,
  0.03, 0.05, 0.04, 0.03, 0.03, 0.05, 0.04, 0.03, 0.03, 0.02,
  0.03, 0.04, 0.02, 0.03, 0.05, 0.03, 0.03, 0.02, 0.03, 0.04,
  0.05, 0.04, 0.08, 0.05, 0.1, 0.06, 0.12, 0.08, 0.1, 0.04,
  0.06, 0.03, 0.05, 0.08, 0.1, 0.05, 0.06, 0.1, 0.04, 0.05,
];

// outline of the part of the network where the edges merge into solid colour
const coreX = [-2.2, -2.07, -1.71, -1.13, -0.59, -0.01, 0.7, 1.0, 1.83, 2.72, 2.99, 3.63, 4.79, 5.6, 5.5, 5.42, 4.6, 3.62, 2.72, 1.83, 1.74, 1.74, 2.05, 2.19, 1.47, 0.66, 0.04, -0.37, -0.86, -1.17, -1.67, -2.38, -2.47, -2.88, -2.47, -2.16, -2.2];
const coreY = [1.83, 2.51, 3.02, 3.39, 3.02, 2.85, 2.6, 2.45, 1.85, 1.75, 2.12, 2.29, 2.38, 2.29, 1.75, 1.0, 0.62, 0.45, 0.2, -0.05, -0.88, -1.73, -2.58, -3.0, -3.76, -4.27, -4.02, -3.17, -2.58, -1.98, -1.39, -1.31, -0.71, -0.03, 0.56, 1.32, 1.83];

// [hub node, xMin, xMax, yMin, yMax]: the hub links to every node in that box
const edgeFans = [
  [0, 4.2, 5.98, 1.3, 2.6], [0, 0.7, 2.4, 2.5, 2.8], [0, 5.8, 5.9, 0.5, 0.7], [0, 4.8, 5.5, 0.7, 1.8],
  [1, 4.7, 5.7, 1.2, 2.3], [1, 5.3, 5.5, 0.7, 0.8], [1, 4.1, 4.5, 0, 0.3], [1, 1.8, 2.2, -2.2, -1.5], [1, 3.2, 3.4, -0.5, 0.3],
  [2, 0.9, 4.6, 0.9, 2.6],
  [3, 1.1, 2.2, -3.9, -1.5], [3, 3.2, 5.2, -0.5, 1.3], [3, 2.0, 2.2, -2.2, -2.0],
  [4, 2.4, 5.5, 0.2, 1.6],
  [5, -1.4, -1.3, -2.8, -2.6], [5, 0.3, 0.4, -4.4, -4.3], [5, 1.1, 1.3, -4.2, -4.1], [5, 0.5, 0.7, -6, -5.9],
  [8, -2.6, -1.5, -1.4, 1.1],
  [9, -2.3, -1.3, 1.2, 3.8],
  [11, -1.9, -0.5, 2.2, 3.4],
  [12, -1.4, 0.1, -2.9, -0.9], [12, -2.6, -2.2, -1.4, -1.2],
  [14, -0.8, 1, -4.2, -2.6], [13, -0.6, 0.8, -4.2, -3],
  [7, -0.2, 1.6, -4.2, -3],
  [24, 4.4, 5.4, 1.2, 2.3],
  [83, 1.2, 4, 1, 2.4], [84, 1.2, 3.5, 1, 2.4], [70, 0.5, 5, 1, 2.7],
  [122, 1, 4.6, 0.9, 2.6], [123, 1, 4.6, 0.9, 2.6], [140, 1, 3, 0.9, 2.4], [141, 1, 3, 0.9, 2.4],
];

// [box of one side, box of the other side, keep every nth pair]
const edgeBundles = [
  { from: [1.0, 1.9, -2.4, 0.3], to: [2.4, 5.5, 0.2, 2.1], every: 5 },
  { from: [0.8, 2.2, 1, 2.7], to: [2.2, 5.6, 1.2, 2.6], every: 2 },
];

const xTicks = [-4, -2, 0, 2, 4, 6];
const yTicks = [-6, -4, -2, 0, 2, 4];
const barTicks = [0, 0.2, 0.4, 0.6, 0.8, 1];
const colorLevels = 64;

const panels = [
  { title: "Gravity Scores", scores: gravityScores, left: 218, top: 161, barLeft: 691 },
  { title: "our method Scores", scores: ourMethodScores, left: 952, top: 161, barLeft: 1426 },
  { title: "CC Scores", scores: ccScores, left: 218, top: 516, barLeft: 691 },
  { title: "DC Scores", scores: dcScores, left: 952, top: 516, barLeft: 1426 },
  { title: "BC Scores", scores: bcScores, left: 218, top: 873, barLeft: 691 },
  { title: "PC Scores", scores: pcScores, left: 952, top: 873, barLeft: 1426 },
];

const FONT = "'Liberation Sans', Arial, sans-serif";
const INK = "#262626";

const jet = (v: number) => {
  const level = Math.min(colorLevels - 1, Math.floor(v * colorLevels));
  const t = (level + 0.5) / colorLevels;
  const ch = (c: number) => Math.round(255 * Math.max(0, Math.min(1, 1.5 - Math.abs(4 * t - c))));
  return `rgb(${ch(3)},${ch(2)},${ch(1)})`;
};

const inBox = (i: number, b: number[]) =>
  nodeX[i] >= b[0] && nodeX[i] <= b[1] && nodeY[i] >= b[2] && nodeY[i] <= b[3];

const buildEdges = () => {
  const pts: { x: number; y: number }[] = [];
  const link = (a: number, b: number) => {
    pts.push({ x: nodeX[a], y: nodeY[a] }, { x: nodeX[b], y: nodeY[b] }, { x: NaN, y: NaN });
  };
  for (const [hub, ...box] of edgeFans) {
    nodeX.forEach((_, i) => { if (i !== hub && inBox(i, box)) link(hub, i); });
  }
  for (const { from, to, every } of edgeBundles) {
    nodeX.forEach((_, i) => {
      if (!inBox(i, from)) return;
      nodeX.forEach((_, j) => { if (i !== j && inBox(j, to) && (i + j) % every === 0) link(i, j); });
    });
  }
  return pts;
};

const edgePoints = buildEdges();

const axisStyle = {
  border: { color: INK, width: 1 },
  grid: { drawOnChartArea: false, tickLength: -5, color: INK },
};

const Panel = ({ title, scores, left, top }: { title: string; scores: number[]; left: number; top: number }) => {
  const canvasRef = useRef<HTMLCanvasElement | null>(null);

  useEffect(() => {
    const ctx = canvasRef.current?.getContext("2d");
    if (!ctx) return;
    const chart = new Chart(ctx, {
      type: "scatter",
      data: {
        datasets: [
          {
            data: nodeX.map((x, i) => ({ x, y: nodeY[i] })),
            pointRadius: 3.7,
            pointBorderWidth: 0,
            pointBackgroundColor: scores.map(jet),
            showLine: false,
          },
          {
            data: edgePoints,
            showLine: true,
            spanGaps: false,
            pointRadius: 0,
            borderColor: "rgba(0,114,189,0.5)",
            borderWidth: 0.9,
          },
          {
            data: coreX.map((x, i) => ({ x, y: coreY[i] })),
            showLine: true,
            pointRadius: 0,
            borderWidth: 0,
            backgroundColor: "#0a72b2",
            fill: "shape",
          },
        ],
      },
      options: {
        animation: false,
        responsive: false,
        events: [],
        layout: { padding: 0 },
        plugins: {
          legend: { display: false },
          tooltip: { enabled: false },
          title: {
            display: true,
            text: title,
            color: "#000",
            fullSize: false,
            font: { family: FONT, size: 25.3, weight: "normal", lineHeight: 1.2 },
            padding: { top: 18.1, bottom: 1.5 },
          },
        },
        scales: {
          x: {
            type: "linear",
            min: -4.46,
            max: 7.78,
            ...axisStyle,
            afterBuildTicks: (s: any) => { s.ticks = xTicks.map((value) => ({ value })); },
            afterFit: (s: any) => { s.height = 45; },
            ticks: { color: INK, font: { family: FONT, size: 22 }, padding: 17, maxRotation: 0, callback: (v: any) => String(v) },
          },
          y: {
            type: "linear",
            min: -7.58,
            max: 5.25,
            ...axisStyle,
            afterBuildTicks: (s: any) => { s.ticks = yTicks.map((value) => ({ value })); },
            afterFit: (s: any) => { s.width = 60; },
            ticks: { color: INK, font: { family: FONT, size: 22 }, padding: 14, callback: (v: any) => String(v) },
          },
        },
      },
    } as any);
    return () => chart.destroy();
  }, [title, scores]);

  return (
    <canvas
      ref={canvasRef}
      width={516}
      height={346}
      style={{ position: "absolute", left: left - 60, top: top - 50, width: 516, height: 346 }}
    />
  );
};

const barBox = {
  id: "barBox",
  afterDraw(chart: any) {
    const { ctx, chartArea: a } = chart;
    ctx.save();
    ctx.strokeStyle = INK;
    ctx.lineWidth = 1;
    ctx.strokeRect(a.left, a.top, a.right - a.left, a.bottom - a.top);
    ctx.restore();
  },
};

const ColorBar = ({ left, top }: { left: number; top: number }) => {
  const canvasRef = useRef<HTMLCanvasElement | null>(null);

  useEffect(() => {
    const ctx = canvasRef.current?.getContext("2d");
    if (!ctx) return;
    const levels = Array.from({ length: colorLevels }, (_, i) => i);
    const chart = new Chart(ctx, {
      type: "bar",
      data: {
        labels: [""],
        datasets: levels.map((i) => ({
          data: [1 / colorLevels],
          backgroundColor: jet((i + 0.5) / colorLevels),
          barPercentage: 1,
          categoryPercentage: 1,
          borderWidth: 0,
        })),
      },
      options: {
        animation: false,
        responsive: false,
        events: [],
        layout: { padding: 0 },
        plugins: { legend: { display: false }, tooltip: { enabled: false } },
        scales: {
          x: { stacked: true, display: false },
          y: {
            stacked: true,
            position: "right",
            min: 0,
            max: 1,
            border: { color: INK, width: 1 },
            grid: { drawOnChartArea: false, tickLength: -4, color: INK },
            afterBuildTicks: (s: any) => { s.ticks = barTicks.map((value) => ({ value })); },
            afterFit: (s: any) => { s.width = 60; },
            ticks: { color: INK, font: { family: FONT, size: 21 }, padding: 10, callback: (v: any) => String(v) },
          },
        },
      },
      plugins: [barBox],
    } as any);
    return () => chart.destroy();
  }, []);

  return (
    <canvas
      ref={canvasRef}
      width={102}
      height={297}
      style={{ position: "absolute", left, top: top - 22, width: 102, height: 297 }}
    />
  );
};

export default function App() {
  return (
    <div style={{ position: "absolute", left: 0, top: 0, width: 1667, height: 1250, overflow: "hidden", background: "#fff" }}>
      <div
        style={{
          position: "absolute", left: 734, width: 200, top: 47, lineHeight: "34px",
          textAlign: "center", fontFamily: FONT, fontSize: 30, color: "#000",
        }}
      >
        EEC
      </div>
      {panels.map((p) => (
        <Panel key={p.title} title={p.title} scores={p.scores} left={p.left} top={p.top} />
      ))}
      {panels.map((p) => (
        <ColorBar key={p.title} left={p.barLeft} top={p.top - 1} />
      ))}
      <div
        style={{
          position: "absolute", left: 17, top: 1234, width: 15, height: 8,
          borderLeft: `1px solid ${INK}`, borderBottom: `1px solid ${INK}`,
        }}
      />
      <div style={{ position: "absolute", left: 25, top: 1240, width: 1, height: 2, background: INK }} />
    </div>
  );
}
